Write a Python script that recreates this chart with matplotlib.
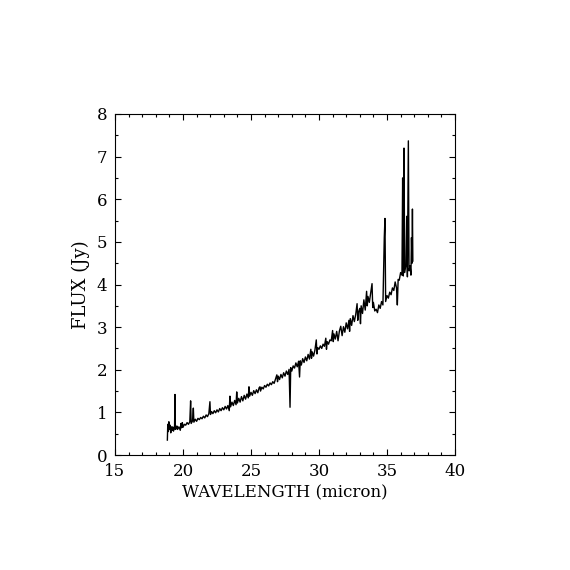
import matplotlib
matplotlib.use("Agg")
import matplotlib.pyplot as plt
from matplotlib.ticker import MultipleLocator

wavelength = [
    18.85, 18.88, 18.92, 18.96, 19.00, 19.05, 19.10, 19.15, 19.20, 19.25,
    19.30, 19.38, 19.41, 19.44, 19.50, 19.55, 19.60, 19.70, 19.80, 19.85,
    19.90, 19.95, 20.00, 20.10, 20.20, 20.30, 20.40, 20.50, 20.56, 20.60,
    20.70, 20.76, 20.80, 20.90, 21.00, 21.10, 21.20, 21.30, 21.40, 21.50,
    21.60, 21.70, 21.80, 21.90, 21.98, 22.02, 22.10, 22.20, 22.30, 22.40,
    22.50, 22.60, 22.70, 22.80, 22.90, 23.00, 23.10, 23.20, 23.30, 23.40,
    23.45, 23.50, 23.60, 23.70, 23.80, 23.90, 23.95, 24.00, 24.10, 24.20,
    24.30, 24.40, 24.50, 24.60, 24.70, 24.80, 24.85, 24.90, 25.00, 25.10,
    25.20, 25.30, 25.40, 25.50, 25.60, 25.66, 25.70, 25.80, 25.90, 26.00,
    26.10, 26.20, 26.30, 26.40, 26.50, 26.60, 26.70, 26.80, 26.90, 26.95,
    27.00, 27.10, 27.20, 27.30, 27.40, 27.50, 27.60, 27.70, 27.80, 27.87,
    27.92, 28.00, 28.10, 28.20, 28.30, 28.40, 28.50, 28.57, 28.62, 28.70,
    28.80, 28.90, 29.00, 29.10, 29.20, 29.30, 29.40, 29.45, 29.50, 29.60,
    29.70, 29.80, 29.85, 29.90, 30.00, 30.10, 30.20, 30.30, 30.40, 30.50,
    30.55, 30.60, 30.70, 30.80, 30.90, 31.00, 31.05, 31.10, 31.20, 31.30,
    31.40, 31.50, 31.60, 31.70, 31.80, 31.90, 32.00, 32.10, 32.20, 32.25,
    32.30, 32.40, 32.50, 32.60, 32.70, 32.80, 32.85, 32.90, 33.00, 33.05,
    33.10, 33.20, 33.30, 33.40, 33.50, 33.55, 33.60, 33.70, 33.80, 33.90,
    33.95, 34.00, 34.10, 34.20, 34.30, 34.40, 34.50, 34.60, 34.70, 34.80,
    34.85, 34.90, 35.00, 35.10, 35.20, 35.30, 35.40, 35.50, 35.60, 35.70,
    35.76, 35.82, 35.90, 36.00, 36.10, 36.15, 36.20, 36.25, 36.30, 36.40,
    36.45, 36.50, 36.57, 36.62, 36.70, 36.76, 36.80, 36.84, 36.87, 36.90,
]

flux = [
    0.35, 0.72, 0.55, 0.78, 0.60, 0.70, 0.52, 0.66, 0.58, 0.66,
    0.56, 0.65, 1.42, 0.60, 0.62, 0.68, 0.60, 0.66, 0.58, 0.74,
    0.64, 0.76, 0.65, 0.72, 0.70, 0.76, 0.72, 0.78, 1.27, 0.74,
    0.80, 1.10, 0.77, 0.84, 0.79, 0.86, 0.83, 0.88, 0.85, 0.91,
    0.87, 0.94, 0.90, 0.97, 1.25, 0.95, 1.02, 0.97, 1.04, 0.99,
    1.06, 1.01, 1.09, 1.04, 1.11, 1.06, 1.14, 1.08, 1.16, 1.04,
    1.38, 1.13, 1.24, 1.16, 1.28, 1.18, 1.48, 1.22, 1.33, 1.24,
    1.37, 1.27, 1.40, 1.31, 1.43, 1.34, 1.60, 1.38, 1.47, 1.40,
    1.51, 1.44, 1.53, 1.46, 1.58, 1.60, 1.50, 1.59, 1.55, 1.63,
    1.59, 1.66, 1.62, 1.69, 1.65, 1.72, 1.68, 1.78, 1.88, 1.72,
    1.85, 1.77, 1.89, 1.81, 1.93, 1.85, 1.97, 1.89, 2.01, 1.12,
    2.05, 1.97, 2.09, 2.04, 2.16, 2.07, 2.20, 1.83, 2.21, 2.11,
    2.26, 2.17, 2.30, 2.21, 2.36, 2.25, 2.48, 2.27, 2.42, 2.32,
    2.46, 2.70, 2.37, 2.52, 2.48, 2.56, 2.50, 2.60, 2.55, 2.74,
    2.48, 2.66, 2.60, 2.70, 2.68, 2.92, 2.66, 2.84, 2.72, 2.90,
    2.68, 2.91, 3.02, 2.80, 3.01, 2.88, 3.10, 2.96, 3.16, 2.90,
    3.20, 3.04, 3.27, 3.13, 3.30, 3.55, 3.16, 3.35, 3.44, 3.08,
    3.50, 3.32, 3.64, 3.40, 3.84, 3.50, 3.72, 3.58, 3.80, 4.02,
    3.46, 3.58, 3.38, 3.42, 3.34, 3.52, 3.44, 3.60, 3.52, 5.10,
    5.55, 3.60, 3.74, 3.68, 3.82, 3.76, 3.92, 3.86, 4.06, 3.92,
    3.52, 4.12, 4.10, 4.28, 4.22, 6.50, 4.20, 7.20, 4.28, 4.48,
    5.60, 4.18, 7.37, 4.32, 4.44, 4.22, 5.10, 4.50, 5.77, 4.55,
]

x_ticks = [15, 20, 25, 30, 35, 40]
y_ticks = [0, 1, 2, 3, 4, 5, 6, 7, 8]

plt.rcParams['font.family'] = ['DejaVu Serif']

fig = plt.figure(figsize=(5.7, 5.7), dpi=100)
ax = fig.add_axes([115/570, 1 - 455/570, 340/570, 341/570])
ax.plot(wavelength, flux, color='black', lw=1.0)

ax.set_xlim(15, 40)
ax.set_ylim(0, 8)
ax.set_xticks(x_ticks)
ax.set_yticks(y_ticks)
ax.xaxis.set_minor_locator(MultipleLocator(1))
ax.yaxis.set_minor_locator(MultipleLocator(0.5))
ax.tick_params(which='both', direction='in', top=True, right=True, width=0.8, labelsize=12)
ax.tick_params(which='major', length=4.5)
ax.tick_params(which='minor', length=2)
ax.tick_params(axis='y', pad=5.5)
ax.tick_params(axis='x', pad=6)
for s in ax.spines.values():
    s.set_linewidth(0.8)

ax.set_xlabel('WAVELENGTH (micron)', fontsize=12, labelpad=3)
ax.set_ylabel('FLUX (Jy)', fontsize=13, labelpad=5)

fig.savefig('out.png', dpi=100)
